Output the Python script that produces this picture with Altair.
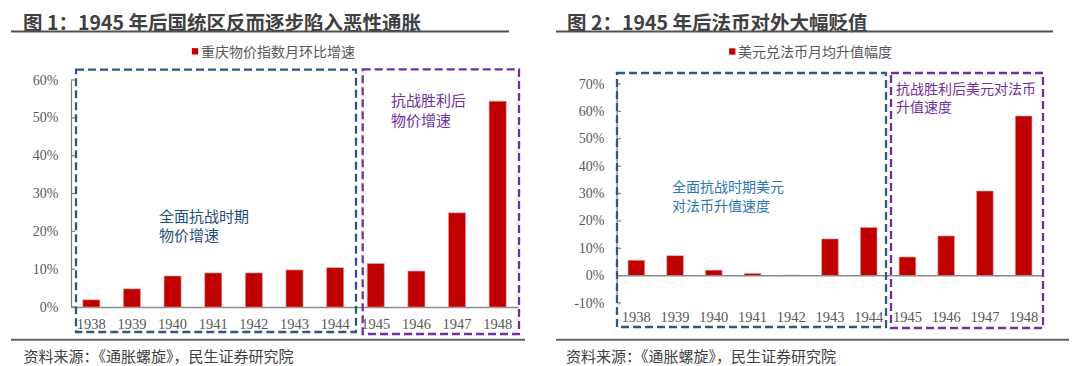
import altair as alt
import pandas as pd

# ---------------- data ----------------
years = ["1938", "1939", "1940", "1941", "1942", "1943", "1944", "1945", "1946", "1947", "1948"]
cpi_pct = [1.9, 4.8, 8.2, 9.0, 9.0, 9.8, 10.4, 11.5, 9.5, 24.9, 54.4]
fx_pct = [5.6, 7.3, 2.0, 0.8, 0.2, 13.4, 17.6, 6.8, 14.5, 30.9, 58.3]

title1 = "图 1：1945 年后国统区反而逐步陷入恶性通胀"
title2 = "图 2：1945 年后法币对外大幅贬值"
legend1 = "重庆物价指数月环比增速"
legend2 = "美元兑法币月均升值幅度"
note1a = ["全面抗战时期", "物价增速"]
note1b = ["抗战胜利后", "物价增速"]
note2a = ["全面抗战时期美元", "对法币升值速度"]
note2b = ["抗战胜利后美元对法币", "升值速度"]
source = "资料来源：《通胀螺旋》，民生证券研究院"

ticks1 = [0, 0.1, 0.2, 0.3, 0.4, 0.5, 0.6]
ticks2 = [-0.1, 0, 0.1, 0.2, 0.3, 0.4, 0.5, 0.6, 0.7]

RED = "#C00000"
BLUE_BOX = "#2C5A85"
PURPLE = "#7030A0"
GRAY_TXT = "#595959"
DARK = "#404040"
CJK = "Noto Sans CJK SC"
SERIF = "Liberation Serif"

one = alt.Data(values=[{"a": 1}])


def text_layer(txt, x, y, size, color, weight="normal", baseline="middle", line_height=None):
    kw = dict(text=txt, align="left", baseline=baseline, font=CJK, fontSize=size,
              color=color, fontWeight=weight)
    if line_height is not None:
        kw["lineHeight"] = line_height
    return alt.Chart(one).mark_text(**kw).encode(x=alt.value(x), y=alt.value(y))


def hline(x1, x2, y, color, width):
    return alt.Chart(one).mark_rule(color=color, strokeWidth=width).encode(
        x=alt.value(x1), x2=alt.value(x2), y=alt.value(y))


def box(x1, x2, y1, y2, color):
    return alt.Chart(one).mark_rect(fill="transparent", stroke=color, strokeWidth=2.3,
                                    strokeDash=[8, 4]).encode(
        x=alt.value(x1), x2=alt.value(x2), y=alt.value(y1), y2=alt.value(y2))


def panel(vals, W, H, domain, tvals, pin, pout, label_pad_x, zero_on_domain, deco):
    df = pd.DataFrame({"year": years, "v": [v / 100 for v in vals]})
    yscale = alt.Scale(domain=domain, nice=False, zero=False)
    yaxis = alt.Axis(values=tvals, labelExpr="round(datum.value*100) + '%'",
                     ticks=False, grid=False, labelFont=SERIF, labelFontSize=14,
                     labelColor=GRAY_TXT, labelPadding=13, labelOverlap=False,
                     labelFlush=False, title=None,
                     domain=zero_on_domain, domainColor="#7F7F7F", domainWidth=1.2)
    xenc = alt.X("year:N", sort=years, title=None,
                 scale=alt.Scale(paddingInner=pin, paddingOuter=pout),
                 axis=alt.Axis(labelAngle=0, ticks=False, labelFont=SERIF, labelFontSize=14.5,
                               labelColor=GRAY_TXT, labelPadding=label_pad_x,
                               labelOverlap=False,
                               domain=zero_on_domain, domainColor="#8C8C8C", domainWidth=1.5))
    bars = alt.Chart(df).mark_bar(color=RED, stroke="#E8A0A0", strokeWidth=0.6).encode(
        x=xenc,
        y=alt.Y("v:Q", scale=yscale, title=None, axis=yaxis),
        y2=alt.datum(0),
    )
    tdf = pd.DataFrame({"t": tvals})
    tick_marks = alt.Chart(tdf).mark_rule(color="#7F7F7F", strokeWidth=1.2).encode(
        x=alt.value(0), x2=alt.value(4), y=alt.Y("t:Q", scale=yscale, title=None, axis=yaxis))
    layers = [bars, tick_marks]
    if not zero_on_domain:
        ydf = pd.DataFrame({"lo": [tvals[0]], "hi": [tvals[-1]], "z": [0]})
        layers.append(alt.Chart(ydf).mark_rule(color="#7F7F7F", strokeWidth=1.2).encode(
            x=alt.value(0), y=alt.Y("lo:Q", scale=yscale, title=None, axis=yaxis), y2="hi:Q"))
        layers.append(alt.Chart(ydf).mark_rule(color="#8C8C8C", strokeWidth=1.5).encode(
            x=alt.value(0), x2=alt.value(W), y=alt.Y("z:Q", scale=yscale, title=None, axis=yaxis)))
    layers += deco
    return alt.layer(*layers).properties(width=W, height=H)


W1, H = 447, 227
W2 = 426

deco1 = [
    text_layer(title1, -48, -56.5, 19.5, DARK, weight="bold"),
    hline(-60, 438, -48.5, "#505050", 2),
    alt.Chart(one).mark_point(shape="square", filled=True, size=40, color=RED, opacity=1).encode(
        x=alt.value(124), y=alt.value(-28.7)),
    text_layer(legend1, 130, -27.5, 14, GRAY_TXT),
    box(5, 285, -10.3, 252, BLUE_BOX),
    box(291.7, 448, -10.7, 254, PURPLE),
    text_layer(note1a, 88, 130, 15, "#1F4E79", baseline="top", line_height=19),
    text_layer(note1b, 320, 14, 15, PURPLE, baseline="top", line_height=20),
    hline(-60, 454, 259.7, "#666666", 2),
    text_layer(source, -47.5, 276.5, 15, DARK),
]

deco2 = [
    text_layer(title2, -50, -56.5, 19.5, DARK, weight="bold"),
    hline(-61, 436, -48.5, "#505050", 2),
    alt.Chart(one).mark_point(shape="square", filled=True, size=40, color=RED, opacity=1).encode(
        x=alt.value(115.3), y=alt.value(-28.5)),
    text_layer(legend2, 121, -27.5, 14, GRAY_TXT),
    box(0, 269, -7, 247, BLUE_BOX),
    box(274, 426, -7, 248, PURPLE),
    text_layer(note2a, 55, 101, 14, "#2E75B6", baseline="top", line_height=18.5),
    text_layer(note2b, 279, 2.5, 14, PURPLE, baseline="top", line_height=18),
    hline(-61, 452, 259.7, "#666666", 2),
    text_layer(source, -51, 276.5, 15, DARK),
]

# chart 2: -10% at 4px above plot bottom, 70% at 4px below plot top
ppu = (H - 8) / 0.8
dom2 = [-0.1 - 4 / ppu, 0.7 + 4 / ppu]

p1 = panel(cpi_pct, W1, H, [0, 0.6], ticks1, 0.58, 0.29, 10, True, deco1)
p2 = panel(fx_pct, W2, H, dom2, ticks2, 0.57, 0.285, 3, False, deco2)

chart = alt.hconcat(p1, p2, spacing=29).properties(
    padding={"left": 2, "top": 5, "right": 0, "bottom": 4},
    background="white",
).configure_view(stroke=None).configure_axis(labelOverlap=False)

chart.save("out.html", embed_options={"renderer": "svg", "actions": False})
